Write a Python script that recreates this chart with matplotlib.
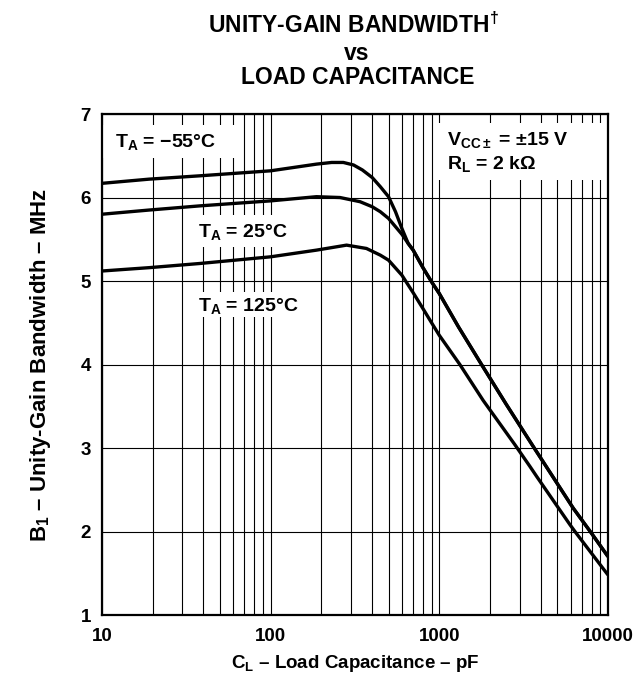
import numpy as np
import matplotlib
matplotlib.use("Agg")
import matplotlib.pyplot as plt
from matplotlib.patches import Rectangle
from matplotlib.ticker import LogLocator, FixedLocator, NullFormatter

plt.rcParams['font.family'] = ['Liberation Sans', 'DejaVu Sans']
plt.rcParams['font.weight'] = 'bold'
plt.rcParams['mathtext.fontset'] = 'custom'
plt.rcParams['mathtext.bf'] = 'Liberation Sans:bold'
plt.rcParams['mathtext.rm'] = 'Liberation Sans:bold'
plt.rcParams['mathtext.default'] = 'bf'

# load capacitance (pF) / unity-gain bandwidth (MHz)
cl_m55 = [10, 19, 38, 100, 187, 230, 270, 310, 350, 400, 447, 500, 550, 600, 654]
bw_m55 = [6.17, 6.22, 6.26, 6.32, 6.40, 6.42, 6.42, 6.39, 6.33, 6.24, 6.13, 6.01, 5.83, 5.63, 5.45]

cl_25 = [10, 19, 38, 100, 187, 258, 339, 400, 447, 500, 600, 654]
bw_25 = [5.80, 5.85, 5.90, 5.96, 6.01, 6.00, 5.95, 5.89, 5.83, 5.75, 5.56, 5.45]

# -55 C and 25 C curves run together above ~650 pF
cl_tail = [700, 800, 900, 1000, 1300, 1780, 2500, 3600, 6220, 7980, 10000]
bw_tail = [5.37, 5.16, 4.99, 4.85, 4.45, 4.00, 3.52, 3.02, 2.28, 1.98, 1.70]

cl_125 = [10, 19, 38, 100, 187, 282, 370, 447, 500, 600, 700, 800, 900, 1000,
          1324, 1820, 2806, 3444, 3776, 5960, 6370, 10000]
bw_125 = [5.12, 5.16, 5.21, 5.29, 5.37, 5.43, 5.39, 5.31, 5.25, 5.07, 4.86, 4.67,
          4.50, 4.35, 4.00, 3.57, 3.04, 2.78, 2.66, 2.08, 2.00, 1.48]

x_ticks = [10, 100, 1000, 10000]
x_ticklabels = ['10', '100', '1000', '10000']
y_ticks = [1, 2, 3, 4, 5, 6, 7]

fig = plt.figure(figsize=(6.41, 6.82), dpi=100)
ax = fig.add_axes([0.159, 0.0982, 0.7895, 0.7346])

ax.set_xscale('log')
ax.set_xlim(10, 10000)
ax.set_ylim(1, 7)

ax.xaxis.set_major_locator(FixedLocator(x_ticks))
ax.xaxis.set_minor_locator(LogLocator(base=10, subs=np.arange(2, 10)))
ax.xaxis.set_minor_formatter(NullFormatter())
ax.set_xticklabels(x_ticklabels)
ax.set_yticks(y_ticks)

ax.grid(True, which='both', axis='x', color='black', linewidth=0.8)
ax.grid(True, which='major', axis='y', color='black', linewidth=0.8)
ax.set_axisbelow(True)
ax.tick_params(which='both', length=0, labelsize=13.5)
ax.tick_params(axis='x', pad=9)
ax.tick_params(axis='y', pad=8)
for s in ax.spines.values():
    s.set_linewidth(1.6)

lw = 2.4
for xs, ys in [(cl_m55 + cl_tail, bw_m55 + bw_tail),
               (cl_25 + cl_tail, bw_25 + bw_tail),
               (cl_125, bw_125)]:
    ax.plot(xs, ys, color='black', lw=lw, zorder=4,
            solid_joinstyle='round', solid_capstyle='butt')

# white blanks behind the labels (grid is cut there)
for x0, y0, w, h in [(0.0, 0.912, 0.273, 0.066),
                     (0.182, 0.735, 0.21, 0.063),
                     (0.182, 0.595, 0.21, 0.05),
                     (0.664, 0.868, 0.336, 0.114)]:
    ax.add_patch(Rectangle((x0, y0), w, h, transform=ax.transAxes,
                           facecolor='white', edgecolor='none', zorder=2))

ax.text(0.026, 0.944, r'$T_A$ = $-$55°C', transform=ax.transAxes, fontsize=14,
        va='center', ha='left', zorder=3)
ax.text(0.19, 0.764, r'$T_A$ = 25°C', transform=ax.transAxes, fontsize=14,
        va='center', ha='left', zorder=3)
ax.text(0.19, 0.617, r'$T_A$ = 125°C', transform=ax.transAxes, fontsize=14,
        va='center', ha='left', zorder=3)
ax.text(0.682, 0.924, 'V$_{CC\\pm}$ = ±15 V\nR$_L$ = 2 kΩ', transform=ax.transAxes,
        fontsize=14, va='center', ha='left', linespacing=1.3, zorder=3)

fig.text(0.552, 0.963, 'UNITY-GAIN BANDWIDTH$^{\\dagger}$', ha='center', va='center',
         fontsize=16.5)
fig.text(0.556, 0.922, 'vs', ha='center', va='center', fontsize=16.5)
fig.text(0.558, 0.886, 'LOAD CAPACITANCE', ha='center', va='center', fontsize=16.5)

ax.set_xlabel('C$_L$ – Load Capacitance – pF', fontsize=13.5, fontweight='bold',
              labelpad=6)
ax.set_ylabel('B$_1$ – Unity-Gain Bandwidth – MHz', fontsize=16, fontweight='bold',
              labelpad=20)

fig.savefig('out.png', dpi=100)
